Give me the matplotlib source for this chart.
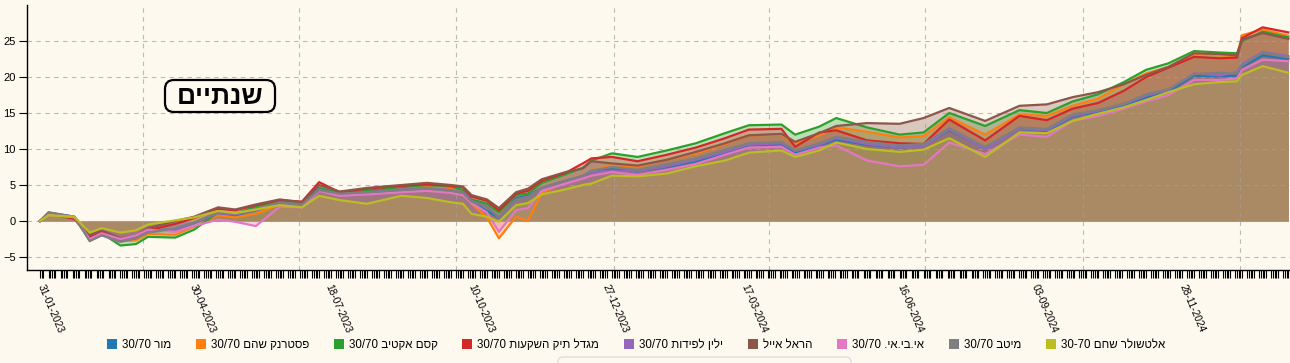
import pandas as pd
import matplotlib
matplotlib.use('Agg')
import matplotlib.pyplot as plt
from matplotlib.patches import Patch, FancyBboxPatch
from matplotlib.transforms import IdentityTransform

plt.rcParams['font.family'] = ['Liberation Sans', 'DejaVu Sans']

# sample dates
dates = ['2023-01-31', '2023-02-05', '2023-02-20', '2023-03-01', '2023-03-08', '2023-03-19',
         '2023-03-28', '2023-04-04', '2023-04-20', '2023-05-01', '2023-05-15', '2023-05-25',
         '2023-06-06', '2023-06-20', '2023-07-03', '2023-07-13', '2023-07-25', '2023-08-10',
         '2023-08-30', '2023-09-14', '2023-09-28', '2023-10-05', '2023-10-10', '2023-10-19',
         '2023-10-26', '2023-11-05', '2023-11-12', '2023-11-20', '2023-12-04', '2023-12-14',
         '2023-12-19', '2023-12-31', '2024-01-15', '2024-02-01', '2024-02-18', '2024-03-06',
         '2024-03-20', '2024-04-08', '2024-04-16', '2024-04-30', '2024-05-10', '2024-05-28',
         '2024-06-16', '2024-06-30', '2024-07-15', '2024-08-05', '2024-08-25', '2024-09-10',
         '2024-09-25', '2024-10-10', '2024-10-25', '2024-11-07', '2024-11-20', '2024-12-05',
         '2024-12-20', '2024-12-30', '2025-01-02', '2025-01-14', '2025-01-29']

mor = [0, 1.0, 0.5, -2.4, -1.6, -2.6, -2.2, -1.4, -1.1, -0.3,
       1.0, 0.8, 1.5, 2.5, 2.2, 4.3, 3.7, 4.0, 4.4, 4.6,
       4.4, 4.0, 2.6, 1.4, 0.5, 3.2, 3.5, 4.6, 5.6, 6.2,
       6.8, 7.2, 6.9, 7.5, 8.3, 9.5, 10.5, 10.7, 9.5, 10.5,
       11.3, 10.6, 10.2, 10.5, 12.6, 10.1, 12.8, 12.5, 14.5, 15.2,
       16.0, 17.2, 18.0, 20.2, 20.1, 20.2, 21.4, 23.0, 22.5]
pasternak = [0, 0.9, 0.5, -2.3, -1.6, -2.8, -2.7, -1.8, -1.9, -0.8,
             0.8, 0.5, 1.0, 2.3, 2.2, 4.5, 3.7, 4.1, 4.5, 4.7,
             4.5, 4.0, 2.4, 0.5, -2.4, 0.6, 0.0, 3.9, 5.4, 6.2,
             7.0, 7.8, 7.6, 8.5, 9.4, 10.7, 11.9, 12.0, 10.8, 11.9,
             13.0, 12.4, 11.6, 11.8, 14.4, 12.0, 14.8, 14.6, 16.0, 17.0,
             19.0, 20.5, 21.4, 23.2, 23.0, 22.9, 25.8, 26.6, 25.7]
kesem = [0, 1.0, 0.4, -2.4, -1.7, -3.4, -3.2, -2.2, -2.3, -1.2,
         1.2, 1.0, 2.0, 2.8, 2.4, 4.6, 3.9, 4.2, 4.7, 5.0,
         4.8, 4.3, 3.0, 2.4, 1.2, 3.6, 3.8, 5.3, 6.5, 7.4,
         8.4, 9.4, 8.9, 9.8, 10.8, 12.2, 13.3, 13.4, 12.0, 13.1,
         14.3, 13.0, 12.0, 12.3, 15.0, 13.2, 15.4, 15.0, 16.6, 17.6,
         19.3, 21.0, 21.9, 23.6, 23.4, 23.3, 25.0, 26.3, 25.5]
migdal = [0, 1.1, 0.3, -2.2, -1.5, -2.7, -2.4, -1.3, -0.4, 0.4,
          1.7, 1.5, 2.2, 2.9, 2.7, 5.4, 4.0, 4.5, 4.9, 5.1,
          4.9, 4.7, 3.4, 2.8, 1.5, 3.8, 4.2, 5.6, 6.7, 8.0,
          8.7, 8.9, 8.3, 9.2, 10.2, 11.5, 12.7, 12.8, 10.3, 12.3,
          12.6, 11.2, 10.8, 10.7, 14.1, 11.2, 14.6, 14.0, 15.6, 16.4,
          18.1, 20.0, 21.3, 22.8, 22.6, 22.7, 25.4, 26.9, 26.2]
yelin = [0, 1.1, 0.6, -2.6, -1.8, -2.6, -2.3, -1.5, -1.3, -0.3,
         1.1, 0.9, 1.5, 2.5, 2.2, 4.4, 3.7, 4.0, 4.4, 4.6,
         4.3, 4.0, 2.8, 2.0, 0.5, 3.0, 3.4, 4.5, 5.5, 6.2,
         6.8, 7.0, 6.9, 7.6, 8.5, 9.6, 10.6, 10.8, 9.7, 10.6,
         11.5, 10.7, 10.2, 10.4, 12.7, 10.0, 12.8, 12.6, 14.6, 15.3,
         16.2, 17.4, 18.2, 20.5, 20.2, 20.7, 21.8, 23.5, 22.9]
harel = [0, 1.2, 0.6, -2.0, -1.3, -2.4, -2.0, -1.0, 0.0, 0.6,
         1.9, 1.6, 2.3, 3.0, 2.6, 5.0, 4.1, 4.6, 5.0, 5.3,
         5.0, 4.8, 3.6, 3.0, 1.8, 4.0, 4.5, 5.8, 6.8, 7.3,
         8.3, 8.0, 7.7, 8.5, 9.6, 10.8, 11.9, 12.1, 11.0, 12.2,
         13.2, 13.6, 13.5, 14.3, 15.7, 13.9, 16.0, 16.2, 17.2, 17.9,
         19.0, 20.3, 21.4, 23.3, 23.2, 23.0, 25.2, 26.1, 25.3]
ibi = [0, 0.9, 0.5, -2.5, -1.7, -2.5, -2.0, -1.2, -1.5, -0.7,
       0.2, -0.1, -0.7, 2.0, 1.9, 4.2, 3.5, 3.7, 4.0, 4.2,
       3.9, 3.6, 2.5, 1.2, -1.5, 1.5, 1.8, 4.2, 5.2, 5.9,
       6.3, 6.8, 6.4, 7.1, 7.9, 9.2, 10.2, 10.3, 9.2, 10.2,
       10.5, 8.4, 7.6, 7.8, 10.9, 9.3, 12.0, 11.7, 13.9, 14.6,
       15.6, 16.6, 17.5, 19.6, 19.6, 19.8, 21.0, 22.4, 22.2]
meitav = [0, 1.2, 0.6, -2.8, -2.0, -2.9, -2.4, -1.6, -1.0, -0.2,
          1.3, 1.0, 1.7, 2.6, 2.3, 4.3, 3.8, 4.0, 4.3, 4.5,
          4.2, 3.9, 2.7, 1.9, 0.6, 3.0, 3.3, 4.6, 5.6, 6.3,
          7.0, 7.5, 7.1, 7.9, 8.7, 9.9, 10.8, 11.0, 9.8, 10.8,
          11.7, 11.0, 10.5, 10.7, 12.9, 10.3, 13.0, 12.8, 14.8, 15.4,
          16.3, 17.6, 18.3, 20.4, 20.6, 20.5, 21.6, 23.4, 22.7]
altshuler = [0, 0.8, 0.6, -1.6, -1.0, -1.6, -1.3, -0.5, 0.1, 0.5,
             1.4, 1.1, 1.6, 2.2, 1.9, 3.5, 2.9, 2.4, 3.5, 3.2,
             2.6, 2.4, 1.0, 0.6, -0.1, 2.2, 2.5, 3.7, 4.4, 5.0,
             5.2, 6.3, 6.2, 6.6, 7.6, 8.4, 9.5, 9.8, 8.9, 9.8,
             10.9, 10.0, 9.6, 9.9, 11.5, 8.9, 12.3, 12.2, 13.9, 14.9,
             15.8, 16.8, 17.9, 19.0, 19.3, 19.4, 20.3, 21.5, 20.6]

names = ['מור 30/70', 'פסטרנק שהם 30/70', 'קסם אקטיב 30/70', 'מגדל תיק השקעות 30/70',
         'ילין לפידות 30/70', 'הראל אייל', 'אי.בי.אי. 30/70', 'מיטב 30/70', 'אלטשולר שחם 30-70']
series = [mor, pasternak, kesem, migdal, yelin, harel, ibi, meitav, altshuler]
colors = ['#1f77b4', '#ff7f0e', '#2ca02c', '#d62728', '#9467bd',
          '#8c564b', '#e377c2', '#7f7f7f', '#bcbd22']

label_dates = ['2023-01-31', '2023-04-30', '2023-07-18', '2023-10-10', '2023-12-27',
               '2024-03-17', '2024-06-16', '2024-09-03', '2024-11-28']
grid_dates = ['2023-04-01', '2023-07-01', '2023-10-01', '2024-01-01',
              '2024-04-01', '2024-07-01', '2024-10-01', '2025-01-01']
title = 'שנתיים'


def visual(s):
    # matplotlib has no bidi support: put hebrew words in visual order
    out = []
    for tok in reversed(s.split(' ')):
        if any('\u0590' <= c <= '\u05ff' for c in tok):
            out.append(tok[::-1])
        else:
            out.append(tok)
    return ' '.join(out)


bg = '#fdf9ef'
fig = plt.figure(figsize=(12.9, 3.63), dpi=100, facecolor=bg)
ax = fig.add_axes([27 / 1290, 1 - 270 / 363, 1263 / 1290, 265 / 363])
ax.set_facecolor(bg)

x = pd.to_datetime(dates)
for vals, c in zip(series, colors):
    ax.fill_between(x, 0, vals, color=c, alpha=0.3, lw=0, zorder=1)
for vals, c in zip(series, colors):
    ax.plot(x, vals, color=c, lw=1.6, zorder=3)

start = pd.Timestamp('2023-01-31')
ax.set_xlim(start - pd.Timedelta(days=7.6), start + pd.Timedelta(days=730))
ax.set_ylim(-6.8, 30)

# grid, faintly visible through the fills
ax.set_yticks([-5, 0, 5, 10, 15, 20, 25])
for v in [-5, 0, 5, 10, 15, 20, 25]:
    ax.axhline(v, color='#a0a0a0', lw=0.8, ls=(0, (4, 4)), alpha=0.7, zorder=2)
for d in grid_dates:
    ax.axvline(pd.Timestamp(d), color='#a0a0a0', lw=0.8, ls=(0, (4, 4)), alpha=0.7, zorder=2)

# x ticks: one per trading day (Sun-Thu), labels on selected dates
days = pd.bdate_range(start, '2025-01-29', freq='C', weekmask='Sun Mon Tue Wed Thu')
ax.set_xticks(pd.to_datetime(label_dates))
ax.set_xticks(days, minor=True)
ax.set_xticklabels([pd.Timestamp(d).strftime('%d-%m-%Y') for d in label_dates])
ax.tick_params(axis='x', which='both', length=6, width=0.8, color='black')
ax.tick_params(axis='x', which='major', labelsize=7.3, pad=5)
plt.setp(ax.get_xticklabels(), rotation=-67, ha='left', va='center', rotation_mode='anchor')
ax.tick_params(axis='y', length=6, width=0.8, labelsize=8, pad=2)

for s in ['top', 'right']:
    ax.spines[s].set_visible(False)
ax.spines['left'].set_linewidth(1)
ax.spines['bottom'].set_linewidth(1)

# title box
tr = IdentityTransform()
box = FancyBboxPatch((165, 363 - 112), 110, 32, boxstyle='round,pad=0,rounding_size=9',
                     transform=tr, facecolor=bg, edgecolor='black', lw=1.6, zorder=5)
fig.patches.append(box)
fig.text(220 / 1290, 1 - 97 / 363, visual(title), ha='center', va='center',
         fontsize=19, fontweight='bold', zorder=6)

# faint box below the legend
box2 = FancyBboxPatch((558, -20), 293, 26, boxstyle='round,pad=0,rounding_size=5',
                      transform=tr, facecolor=bg, edgecolor='#dddddd', lw=1)
fig.patches.append(box2)

handles = [Patch(facecolor=c, edgecolor='none') for c in colors]
fig.legend(handles, [visual(n) for n in names], loc='center', ncol=9,
           bbox_to_anchor=(636 / 1290, 1 - 345 / 363), frameon=False,
           fontsize=8.3, handlelength=0.85, handleheight=0.85, handletextpad=0.45,
           columnspacing=2.15)

fig.savefig('out.png', dpi=100, facecolor=bg)
